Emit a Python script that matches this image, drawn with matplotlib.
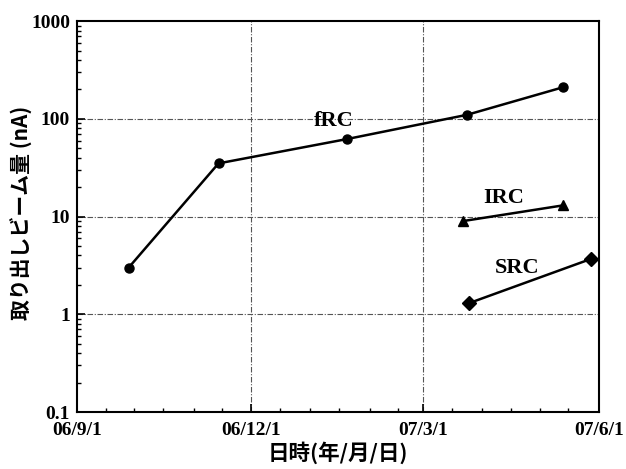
import matplotlib
matplotlib.use("Agg")
import matplotlib.pyplot as plt
import matplotlib.dates as mdates
from matplotlib.ticker import LogLocator, FixedLocator, NullFormatter
import datetime as dt
import numpy as np

frc_dates = ["2006-09-28", "2006-11-14", "2007-01-20", "2007-03-24", "2007-05-13"]
frc_vals = [3.0, 35.0, 62.0, 110.0, 210.0]
irc_dates = ["2007-03-22", "2007-05-13"]
irc_vals = [9.0, 13.0]
src_dates = ["2007-03-25", "2007-05-28"]
src_vals = [1.3, 3.7]
xtick_dates = ["2006-09-01", "2006-12-01", "2007-03-01", "2007-06-01"]
xtick_labels = ["06/9/1", "06/12/1", "07/3/1", "07/6/1"]
ytick_vals = [0.1, 1, 10, 100, 1000]
ytick_labels = ["0.1", "1", "10", "100", "1000"]

def d(s):
    return mdates.date2num(dt.datetime.strptime(s, "%Y-%m-%d"))

serif = ["Liberation Serif", "DejaVu Serif"]
jp = ["Noto Sans CJK JP", "DejaVu Sans"]

fig = plt.figure(figsize=(6.26, 4.69), dpi=100)
ax = fig.add_axes([0.123, 0.1215, 0.834, 0.8335])

ax.set_yscale("log")
ax.set_ylim(0.1, 1000)
ax.set_xlim(d(xtick_dates[0]), d(xtick_dates[-1]))

lw = 1.8
ax.plot([d(s) for s in frc_dates], frc_vals, color="black", lw=lw, marker="o", ms=6.5, zorder=3)
ax.plot([d(s) for s in irc_dates], irc_vals, color="black", lw=lw, marker="^", ms=7, zorder=3)
ax.plot([d(s) for s in src_dates], src_vals, color="black", lw=lw, marker="D", ms=7.5, zorder=3)

# grid
for s in xtick_dates[1:-1]:
    ax.axvline(d(s), color="#555555", lw=0.8, ls=(0, (5, 1.5, 1, 1.5)), zorder=1)
for v in [1, 10, 100]:
    ax.axhline(v, color="#555555", lw=0.8, ls=(0, (5, 1.5, 1, 1.5)), zorder=1)

ax.set_xticks([d(s) for s in xtick_dates])
ax.set_xticklabels(xtick_labels, fontfamily=serif, fontweight="bold", fontsize=14)
minor_x = []
cur = dt.datetime(2006, 9, 1)
while cur < dt.datetime(2007, 6, 1):
    for day in (1, 16):
        minor_x.append(mdates.date2num(cur.replace(day=day)))
    m = cur.month + 1
    y = cur.year + (1 if m > 12 else 0)
    m = 1 if m > 12 else m
    cur = dt.datetime(y, m, 1)
ax.xaxis.set_minor_locator(FixedLocator(minor_x))

ax.set_yticks(ytick_vals)
ax.set_yticklabels(ytick_labels, fontfamily=serif, fontweight="bold", fontsize=14)
ax.yaxis.set_minor_locator(LogLocator(base=10, subs=np.arange(2, 10)))
ax.yaxis.set_minor_formatter(NullFormatter())

ax.tick_params(which="both", direction="in", top=False, right=False)
ax.tick_params(which="major", length=6, width=1.2)
ax.tick_params(axis="x", which="major", pad=7)
ax.tick_params(axis="y", which="major", pad=5)
ax.tick_params(which="minor", length=3, width=1.0)
for sp in ax.spines.values():
    sp.set_linewidth(1.5)

ax.set_xlabel("日時(年/月/日)", fontfamily=jp, fontweight="bold", fontsize=15.5, labelpad=2)
ax.set_ylabel("取り出しビーム量 (nA)", fontfamily=jp, fontweight="bold", fontsize=15)
ax.yaxis.set_label_coords(-0.084, 0.51)

ax.text(d("2007-01-13"), 95, "fRC", fontfamily=serif, fontweight="bold", fontsize=16, ha="center", va="center")
ax.text(d("2007-04-12"), 15.5, "IRC", fontfamily=serif, fontweight="bold", fontsize=16, ha="center", va="center")
ax.text(d("2007-04-19"), 3.0, "SRC", fontfamily=serif, fontweight="bold", fontsize=16, ha="center", va="center")

fig.savefig("out.png", dpi=100)
